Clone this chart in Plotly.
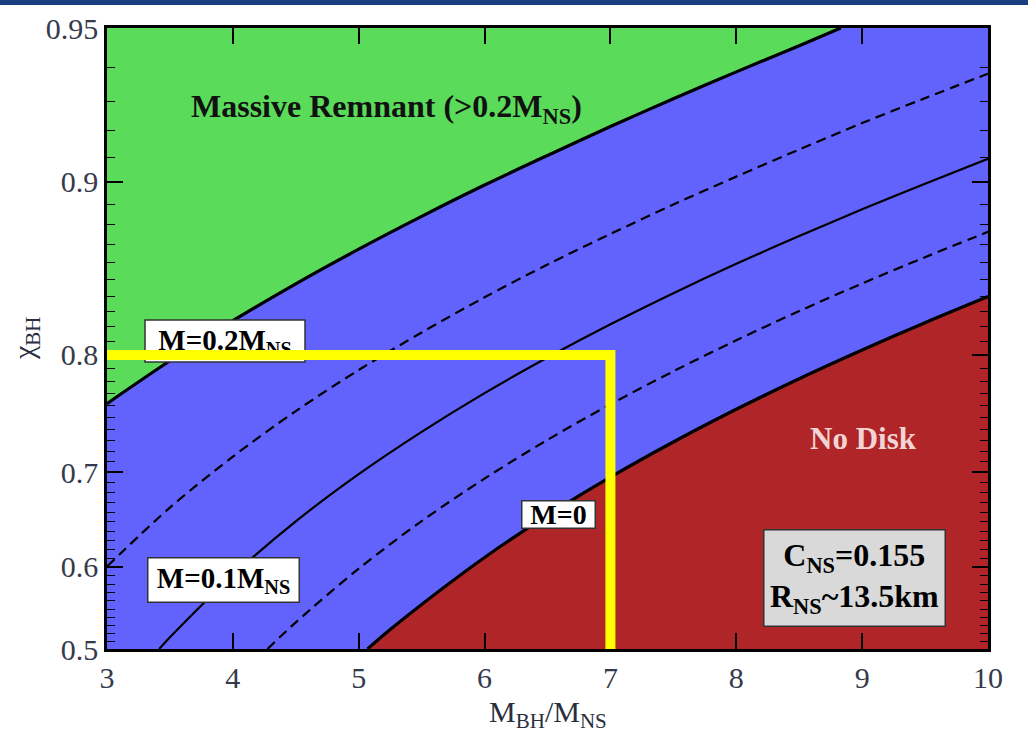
import numpy as np
import plotly.graph_objects as go

# ---------------- data ----------------
X_MIN, X_MAX = 3.0, 10.0          # M_BH / M_NS axis range
CHI_MIN, CHI_MAX = 0.5, 0.95      # chi_BH axis range

# remnant-mass contours (q = M_BH/M_NS, chi = BH spin)
q_m000 = [5.07, 5.25, 5.5, 6.0, 6.5, 7.0, 7.5, 8.0, 8.5, 9.0, 9.5, 10.0]
chi_m000 = [0.5000, 0.5247, 0.5558, 0.6108, 0.6567, 0.6954, 0.7285, 0.7571,
            0.7819, 0.8036, 0.8228, 0.8398]

q_m005 = [4.275, 4.5, 5.0, 5.5, 6.0, 6.5, 7.0, 7.5, 8.0, 8.5, 9.0, 9.5, 10.0]
chi_m005 = [0.5000, 0.5338, 0.5981, 0.6506, 0.6940, 0.7304, 0.7613, 0.7877,
            0.8106, 0.8305, 0.8478, 0.8630, 0.8765]

q_m010 = [3.415, 3.5, 4.0, 4.5, 5.0, 5.5, 6.0, 6.5, 7.0, 7.5, 8.0, 8.5, 9.0, 9.5, 10.0]
chi_m010 = [0.5000, 0.5150, 0.5905, 0.6503, 0.6983, 0.7376, 0.7705, 0.7981,
            0.8217, 0.8419, 0.8593, 0.8743, 0.8876, 0.8992, 0.9095]

q_m015 = [3.0, 3.5, 4.0, 4.5, 5.0, 5.5, 6.0, 6.5, 7.0, 7.5, 8.0, 8.5, 9.0, 9.5, 10.0]
chi_m015 = [0.6005, 0.6648, 0.7150, 0.7556, 0.7887, 0.8161, 0.8393, 0.8589,
            0.8754, 0.8898, 0.9022, 0.9131, 0.9227, 0.9309, 0.9382]

q_m020 = [3.0, 3.5, 4.0, 4.5, 5.0, 5.5, 6.0, 6.5, 7.0, 7.5, 8.0, 8.5, 8.83]
chi_m020 = [0.7619, 0.7957, 0.8241, 0.8476, 0.8674, 0.8842, 0.8986, 0.9108,
            0.9215, 0.9307, 0.9387, 0.9457, 0.9500]

# yellow guide lines
CUT_Q = 7.0
CUT_CHI = 0.8

x_ticks = [3, 4, 5, 6, 7, 8, 9, 10]
y_ticks = [0.5, 0.6, 0.7, 0.8, 0.9, 0.95]
y_ticklabels = ["0.5", "0.6", "0.7", "0.8", "0.9", "0.95"]
y_minor = [round(0.5 + 0.01 * i, 2) for i in range(46)]

GREEN = "#5ADC5A"
BLUE = "#6262FC"
RED = "#B02628"
TICKCOL = "#353a4c"
FONT = "Liberation Serif"


# non-linear spin scale of the original axis
def yax(c):
    c = np.asarray(c, dtype=float)
    return c - 0.5 * np.log(1.0 - c)


fig = go.Figure()

# green region (massive remnant)
gx = [X_MIN] + q_m020 + [X_MIN]
gy = [CHI_MAX] + chi_m020 + [CHI_MAX]
fig.add_trace(go.Scatter(x=gx, y=yax(gy), mode="lines", fill="toself",
                         fillcolor=GREEN, line=dict(width=0), hoverinfo="skip"))
# red region (no disk)
rx = q_m000 + [X_MAX, q_m000[0]]
ry = chi_m000 + [CHI_MIN, CHI_MIN]
fig.add_trace(go.Scatter(x=rx, y=yax(ry), mode="lines", fill="toself",
                         fillcolor=RED, line=dict(width=0), hoverinfo="skip"))

curves = [
    (q_m000, chi_m000, 3.2, "solid"),
    (q_m005, chi_m005, 2.2, "10px,6px"),
    (q_m010, chi_m010, 2.2, "solid"),
    (q_m015, chi_m015, 2.2, "10px,6px"),
    (q_m020, chi_m020, 3.2, "solid"),
]
for qs, cs, w, d in curves:
    fig.add_trace(go.Scatter(x=qs, y=yax(cs), mode="lines",
                             line=dict(color="black", width=w, dash=d,
                                       shape="spline", smoothing=0.9),
                             hoverinfo="skip"))

L, R, T, B = 107, 40, 28, 89
W, H = 1028, 738
PW, PH = W - L - R, H - T - B


def px(x):
    return (x - L) / PW


def py(y):
    return (H - B - y) / PH


shapes = [
    # top navy bar of the slide
    dict(type="rect", xref="paper", yref="paper", x0=px(0), x1=px(W),
         y0=py(5), y1=py(0), fillcolor="#1a3e7e", line=dict(width=0), layer="above"),
    # M=0.2 label box (drawn as shape so the yellow line can cover it)
    dict(type="rect", xref="paper", yref="paper", x0=px(145), x1=px(305),
         y0=py(362), y1=py(320), fillcolor="white",
         line=dict(color="#333333", width=1.5), layer="above",
         label=dict(text="<b>M=0.2M<sub>NS</sub></b>",
                    font=dict(family=FONT, size=29, color="black"),
                    textposition="top center", padding=1)),
    # yellow guide lines
    dict(type="path", xref="x", yref="y",
         path=f"M {X_MIN},{float(yax(CUT_CHI))} L {CUT_Q},{float(yax(CUT_CHI))} "
              f"L {CUT_Q},{float(yax(CHI_MIN))}",
         line=dict(color="#FFFF00", width=10), layer="above"),
]


def ann(x, y, text, size, color="black", **kw):
    d = dict(x=px(x), y=py(y), xref="paper", yref="paper", showarrow=False,
             xanchor="center", yanchor="middle", text=text,
             font=dict(family=FONT, size=size, color=color))
    d.update(kw)
    return d


box = dict(bordercolor="#333333", borderwidth=1.5, borderpad=1)
annotations = [
    ann(386, 108, "<b>Massive Remnant (>0.2M<sub>NS</sub>)</b>", 32, "#111111"),
    ann(863, 438, "<b>No Disk</b>", 31, "#f3d4d4"),
    ann(223, 580, "<b>M=0.1M<sub>NS</sub></b>", 29, bgcolor="white",
        width=148, height=41, **box),
    ann(558, 514, "<b>M=0</b>", 28, bgcolor="white", width=70, height=24, **box),
    ann(854, 578, "<b>C<sub>NS</sub>=0.155<br>R<sub>NS</sub>~13.5km</b>", 32,
        bgcolor="#d9d9d9", width=178, height=93, **box),
    ann(548, 714, "M<sub>BH</sub>/M<sub>NS</sub>", 30, "#2a2e3e"),
    ann(26, 338, "χ<sub>BH</sub>", 30, "#2a2e3e", textangle=-90),
]

fig.update_layout(
    width=W, height=H,
    margin=dict(l=L, r=R, t=T, b=B),
    paper_bgcolor="white",
    plot_bgcolor=BLUE,
    showlegend=False,
    shapes=shapes,
    annotations=annotations,
    xaxis=dict(range=[X_MIN, X_MAX], tickvals=x_ticks, ticks="inside", ticklen=16,
               tickwidth=1.6, tickcolor="black", showline=True, linewidth=2.5,
               linecolor="black", mirror="ticks", showgrid=False, zeroline=False,
               tickfont=dict(family=FONT, size=30, color=TICKCOL)),
    yaxis=dict(range=[float(yax(CHI_MIN)), float(yax(CHI_MAX))],
               tickvals=list(yax(y_ticks)), ticktext=y_ticklabels,
               ticks="inside", ticklen=16, tickwidth=1.6, tickcolor="black",
               showline=True, linewidth=2.5, linecolor="black", mirror="ticks",
               showgrid=False, zeroline=False,
               minor=dict(tickvals=list(yax(y_minor)), ticks="inside", ticklen=8,
                          tickwidth=1.4, tickcolor="black", showgrid=False),
               tickfont=dict(family=FONT, size=30, color=TICKCOL)),
)

fig.write_html("out.html",
               config={"displayModeBar": False},
               post_script="document.body.style.margin='0px';"
                           "document.body.style.overflow='hidden';")
